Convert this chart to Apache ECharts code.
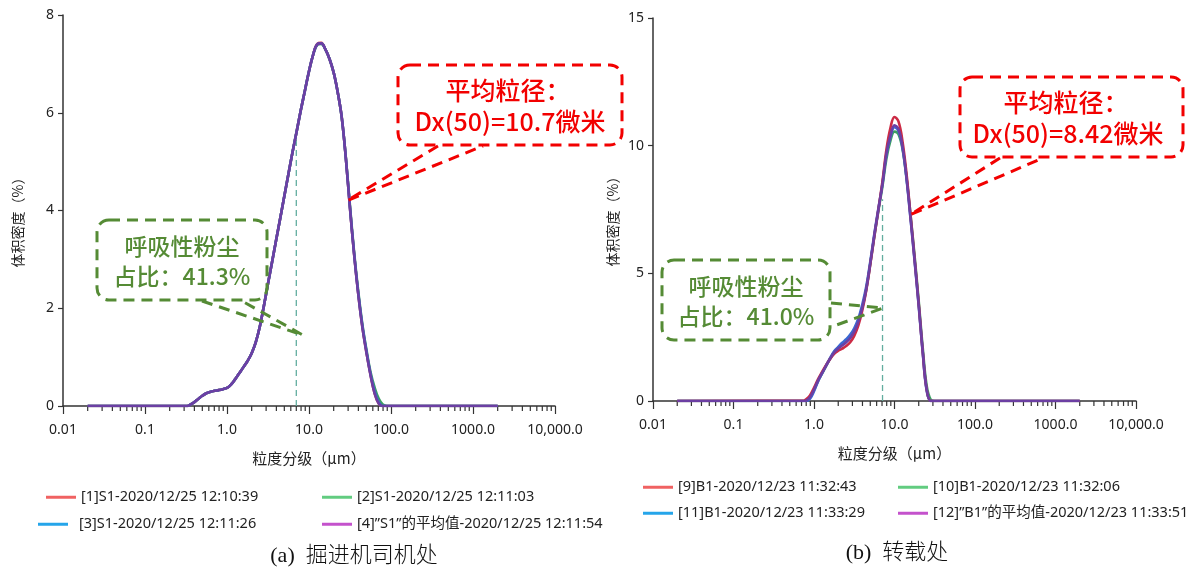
<!DOCTYPE html>
<html><head><meta charset="utf-8">
<script src="https://cdn.jsdelivr.net/npm/echarts@6/dist/echarts.min.js"></script>
<style>html,body{margin:0;padding:0;background:#fff}#c{width:1199px;height:574px}</style>
</head><body><div id="c"></div><script>
// ---- axis ticks ----
const tickValues = [0.01, 0.1, 1, 10, 100, 1000, 10000];
const tickLabels = ['0.01', '0.1', '1.0', '10.0', '100.0', '1000.0', '10,000.0'];
const minorTicks = [0.02,0.03,0.04,0.05,0.06,0.07,0.08,0.09,
  0.2,0.3,0.4,0.5,0.6,0.7,0.8,0.9,
  2,3,4,5,6,7,8,9,
  20,30,40,50,60,70,80,90,
  200,300,400,500,600,700,800,900,
  2000,3000,4000,5000,6000,7000,8000,9000];
const xAxisName = '粒度分级（μm）';
const yAxisName = '体积密度（%）';

// ---- chart (a) S1 : particle size (µm) and volume density (%) ----
const sizesA = [0.02, 0.33, 0.35, 0.4, 0.45, 0.5, 0.56, 0.63, 0.71, 0.79, 0.89, 1.0, 1.12, 1.26, 1.41, 1.58, 1.78, 2.0, 2.24, 2.51, 2.82, 3.16, 3.55, 3.98, 4.47, 5.01, 5.62, 6.31, 7.08, 7.94, 8.91, 10.0, 11.2, 12.6, 14.1, 15.8, 17.8, 20.0, 22.4, 25.1, 28.2, 31.6, 35.5, 39.8, 44.7, 50.1, 56.2, 63.1, 70.8, 79.4, 89.1, 2000];
const s1Run1 = [0, 0, 0.02, 0.08, 0.15, 0.21, 0.26, 0.29, 0.31, 0.325, 0.345, 0.37, 0.44, 0.55, 0.67, 0.79, 0.92, 1.08, 1.30, 1.62, 2.05, 2.5, 2.95, 3.4, 3.85, 4.3, 4.75, 5.2, 5.62, 6.05, 6.45, 6.85, 7.18, 7.41, 7.43, 7.30, 7.10, 6.82, 6.42, 5.9, 5.05, 4.05, 3.1, 2.3, 1.62, 1.1, 0.64, 0.26, 0.05, 0, 0, 0];
const s1Run2 = [0, 0, 0.02, 0.08, 0.15, 0.21, 0.26, 0.29, 0.31, 0.325, 0.345, 0.37, 0.44, 0.55, 0.67, 0.79, 0.92, 1.08, 1.30, 1.62, 2.05, 2.5, 2.95, 3.4, 3.85, 4.3, 4.75, 5.2, 5.62, 6.05, 6.45, 6.85, 7.18, 7.39, 7.41, 7.30, 7.10, 6.82, 6.42, 5.9, 5.07, 4.1, 3.15, 2.36, 1.68, 1.16, 0.7, 0.38, 0.15, 0.03, 0, 0];
const s1Run3 = [0, 0, 0.02, 0.08, 0.15, 0.21, 0.26, 0.29, 0.31, 0.325, 0.345, 0.37, 0.44, 0.55, 0.67, 0.79, 0.92, 1.08, 1.30, 1.62, 2.05, 2.5, 2.95, 3.4, 3.85, 4.3, 4.75, 5.2, 5.62, 6.05, 6.45, 6.85, 7.18, 7.40, 7.42, 7.30, 7.10, 6.82, 6.42, 5.9, 5.05, 4.06, 3.12, 2.32, 1.65, 1.13, 0.66, 0.3, 0.08, 0, 0, 0];
const s1Mean = [0, 0, 0.02, 0.08, 0.15, 0.21, 0.26, 0.29, 0.31, 0.325, 0.345, 0.37, 0.44, 0.55, 0.67, 0.79, 0.92, 1.08, 1.30, 1.62, 2.05, 2.5, 2.95, 3.4, 3.85, 4.3, 4.75, 5.2, 5.62, 6.05, 6.45, 6.85, 7.18, 7.40, 7.42, 7.30, 7.10, 6.82, 6.42, 5.9, 5.05, 4.05, 3.1, 2.3, 1.62, 1.1, 0.64, 0.26, 0.05, 0, 0, 0];
const namesA = ['[1]S1-2020/12/25 12:10:39', '[2]S1-2020/12/25 12:11:03', '[3]S1-2020/12/25 12:11:26', '[4]\u201DS1\u201D的平均值-2020/12/25 12:11:54'];
const cutoffA = [[7.0, 0], [7.0, 5.5]];

// ---- chart (b) B1 ----
const sizesB = [0.02, 0.75, 0.79, 0.89, 1.0, 1.12, 1.26, 1.41, 1.58, 1.78, 2.0, 2.24, 2.51, 2.82, 3.16, 3.55, 3.98, 4.47, 5.01, 5.62, 6.31, 7.08, 7.94, 8.91, 10.0, 11.2, 12.6, 14.1, 15.8, 17.8, 20.0, 22.4, 25.1, 28.2, 31.6, 2000];
const b1Run9  = [0, 0.02, 0.06, 0.22, 0.52, 0.85, 1.14, 1.4, 1.64, 1.85, 1.97, 2.05, 2.15, 2.3, 2.55, 2.95, 3.55, 4.35, 5.35, 6.45, 7.5, 8.6, 9.85, 10.7, 11.12, 10.95, 10.15, 8.9, 7.3, 5.55, 3.8, 1.95, 0.45, 0, 0, 0];
const b1Run10 = [0, 0, 0.01, 0.14, 0.43, 0.78, 1.08, 1.37, 1.65, 1.92, 2.1, 2.22, 2.36, 2.52, 2.75, 3.12, 3.65, 4.4, 5.4, 6.45, 7.45, 8.4, 9.5, 10.2, 10.55, 10.45, 9.85, 8.75, 7.3, 5.65, 3.9, 2.1, 0.6, 0.05, 0, 0];
const b1Run11 = [0, 0, 0, 0.08, 0.38, 0.76, 1.08, 1.38, 1.68, 1.95, 2.12, 2.28, 2.42, 2.6, 2.85, 3.22, 3.78, 4.5, 5.48, 6.55, 7.55, 8.5, 9.65, 10.35, 10.72, 10.58, 9.9, 8.7, 7.15, 5.45, 3.7, 1.9, 0.4, 0, 0, 0];
const b1Mean  = [0, 0, 0.01, 0.15, 0.45, 0.8, 1.1, 1.38, 1.65, 1.9, 2.06, 2.17, 2.3, 2.47, 2.72, 3.1, 3.65, 4.4, 5.4, 6.5, 7.5, 8.5, 9.7, 10.4, 10.8, 10.65, 9.95, 8.75, 7.2, 5.5, 3.75, 1.95, 0.45, 0, 0, 0];
const namesB = ['[9]B1-2020/12/23 11:32:43', '[10]B1-2020/12/23 11:32:06', '[11]B1-2020/12/23 11:33:29', '[12]\u201DB1\u201D的平均值-2020/12/23 11:33:51'];
const cutoffB = [[7.1, 0], [7.1, 7.9]];

// annotation anchors (data coords where the callout tails point)
const anchorA_red = [29, 4.2], anchorA_green = [8.45, 1.45];
const anchorB_red = [15.6, 7.29], anchorB_green = [7.2, 3.64];

const lineColors = ['#cc2b45', '#3d9e62', '#3b68d2', '#6c3fa3'];
const legendColors = ['#f06262', '#62cc80', '#25a5ea', '#c452cc'];
const FONT = '"Noto Sans", "Noto Sans CJK SC", sans-serif';
const CJK = '"Noto Sans CJK SC", sans-serif';

function fmtTick(v) {
  for (let i = 0; i < tickValues.length; i++) {
    if (Math.abs(Math.log10(v) - Math.log10(tickValues[i])) < 1e-6) return tickLabels[i];
  }
  return '';
}
function xAxisDef(gi) {
  return {
    type: 'log', logBase: 10, gridIndex: gi, min: 0.01, max: 10000, splitNumber: 6,
    name: xAxisName, nameLocation: 'middle', nameGap: 45,
    nameTextStyle: { fontSize: 15, color: '#222', fontFamily: CJK },
    axisLine: { lineStyle: { color: '#333', width: 1.5 } },
    axisTick: { show: true, length: 8, lineStyle: { color: '#333', width: 1.2 } },
    minorTick: { show: false },
    splitLine: { show: false },
    axisLabel: { formatter: fmtTick, fontSize: 14, color: '#222', fontFamily: FONT, margin: 17, showMinLabel: true, showMaxLabel: true }
  };
}
function yAxisDef(gi, max, interval) {
  return {
    type: 'value', gridIndex: gi, min: 0, max: max, interval: interval,
    axisLine: { show: true, lineStyle: { color: '#333', width: 1.5 } },
    axisTick: { show: true, length: 5, lineStyle: { color: '#333', width: 1.2 } },
    splitLine: { show: false },
    axisLabel: { fontSize: 14, color: '#222', fontFamily: FONT, margin: 9 }
  };
}
function curve(name, sizes, vals, color, gi) {
  return {
    type: 'line', name: name, xAxisIndex: gi, yAxisIndex: gi,
    data: sizes.map((s, i) => [s, vals[i]]),
    smooth: 0.4, showSymbol: false, symbol: 'none',
    lineStyle: { color: color, width: 2.6 }, itemStyle: { color: color },
    z: 3, silent: true
  };
}
function minorTickSeries(gi) {
  return {
    type: 'custom', xAxisIndex: gi, yAxisIndex: gi, silent: true, z: 1, clip: false,
    data: minorTicks.map(v => [v, 0]),
    renderItem: function (params, api) {
      const p = api.coord([api.value(0), 0]);
      return { type: 'line', shape: { x1: p[0], y1: p[1], x2: p[0], y2: p[1] + 5 },
        style: { stroke: '#333', lineWidth: 1.2 } };
    }
  };
}
function cutoffSeries(data, gi) {
  return { type: 'line', xAxisIndex: gi, yAxisIndex: gi, data: data, showSymbol: false, symbol: 'none',
    lineStyle: { color: '#62ad9f', width: 1.3, type: [6, 4] }, z: 2, silent: true };
}
function legendDef(name, color, left, top, pad) {
  return {
    data: [{ name: name, itemStyle: { color: color } }],
    left: left, top: top, padding: 0, icon: 'rect', itemWidth: 30, itemHeight: 3,
    selectedMode: false,
    textStyle: { fontSize: 14.5, color: '#222', fontFamily: FONT, padding: [0, 0, 0, pad || 0] }
  };
}

const chart = echarts.init(document.getElementById('c'), null, { renderer: 'canvas' });
chart.setOption({
  animation: false,
  backgroundColor: '#fff',
  grid: [
    { left: 63, top: 15, width: 492, height: 391 },
    { left: 653, top: 18, width: 483, height: 383 }
  ],
  xAxis: [xAxisDef(0), xAxisDef(1)],
  yAxis: [yAxisDef(0, 8, 2), yAxisDef(1, 15, 5)],
  legend: [
    legendDef(namesA[0], legendColors[0], 46, 490),
    legendDef(namesA[1], legendColors[1], 322, 490),
    legendDef(namesA[2], legendColors[2], 38, 517, 6),
    legendDef(namesA[3], legendColors[3], 322, 517),
    legendDef(namesB[0], legendColors[0], 643, 480),
    legendDef(namesB[1], legendColors[1], 898, 480),
    legendDef(namesB[2], legendColors[2], 643, 506),
    legendDef(namesB[3], legendColors[3], 898, 506)
  ],
  series: [
    minorTickSeries(0), minorTickSeries(1),
    cutoffSeries(cutoffA, 0), cutoffSeries(cutoffB, 1),
    curve(namesA[0], sizesA, s1Run1, lineColors[0], 0),
    curve(namesA[1], sizesA, s1Run2, lineColors[1], 0),
    curve(namesA[2], sizesA, s1Run3, lineColors[2], 0),
    curve(namesA[3], sizesA, s1Mean, lineColors[3], 0),
    curve(namesB[1], sizesB, b1Run10, lineColors[1], 1),
    curve(namesB[2], sizesB, b1Run11, lineColors[2], 1),
    curve(namesB[0], sizesB, b1Run9, lineColors[0], 1),
    curve(namesB[3], sizesB, b1Mean, lineColors[3], 1)
  ]
});

const RED = '#f20000', GREEN = '#558b35';
function px(gi, pt) { return chart.convertToPixel({ xAxisIndex: gi, yAxisIndex: gi }, pt); }
function box(x, y, w, h, color) {
  return { type: 'rect', shape: { x: x, y: y, width: w, height: h, r: 12 }, z: 10,
    style: { fill: 'none', stroke: color, lineWidth: 3, lineDash: [11, 7] } };
}
function tail(points, color) {
  return { type: 'polyline', shape: { points: points }, z: 10,
    style: { fill: 'none', stroke: color, lineWidth: 3, lineDash: [11, 7] } };
}
function txt(x, y, s, color, size) {
  return { type: 'text', x: x, y: y, z: 11,
    style: { text: s, fill: color, fontSize: size, fontWeight: 500, fontFamily: CJK, align: 'center', verticalAlign: 'middle' } };
}
function yName(x, y) {
  return { type: 'text', x: x, y: y, rotation: Math.PI / 2, z: 5,
    style: { text: yAxisName, fill: '#222', fontSize: 14, fontFamily: CJK, align: 'center', verticalAlign: 'middle' } };
}
const aR = px(0, anchorA_red), aG = px(0, anchorA_green), bR = px(1, anchorB_red), bG = px(1, anchorB_green);
const CAPFONT = '"Liberation Serif", "Noto Sans CJK SC", serif';
chart.setOption({
  graphic: [
    yName(18, 219), yName(613, 218),
    // (a) red
    box(398, 65, 224, 80, RED),
    txt(508, 90, '平均粒径：', RED, 25),
    txt(510, 121, 'Dx(50)=10.7微米', RED, 25),
    tail([[438, 146], aR, [483, 146]], RED),
    // (a) green
    box(97, 220, 170, 80, GREEN),
    txt(182, 246, '呼吸性粉尘', GREEN, 23),
    txt(182, 276, '占比：41.3%', GREEN, 23),
    tail([[202, 301], aG, [242, 301]], GREEN),
    // (b) red
    box(960, 77, 223, 80, RED),
    txt(1066, 102, '平均粒径：', RED, 25),
    txt(1068, 133, 'Dx(50)=8.42微米', RED, 25),
    tail([[1000, 158], bR, [1043, 158]], RED),
    // (b) green
    box(662, 260, 168, 80, GREEN),
    txt(746, 286, '呼吸性粉尘', GREEN, 23),
    txt(746, 316, '占比：41.0%', GREEN, 23),
    tail([[831, 303], bG, [831, 327]], GREEN),
    // captions
    { type: 'text', x: 354, y: 556, style: { text: '(a)  掘进机司机处', fill: '#111', fontSize: 22,
      fontFamily: CAPFONT, fontWeight: 300, align: 'center', verticalAlign: 'middle' } },
    { type: 'text', x: 897, y: 553, style: { text: '(b)  转载处', fill: '#111', fontSize: 22,
      fontFamily: CAPFONT, fontWeight: 300, align: 'center', verticalAlign: 'middle' } }
  ]
});
</script></body></html>
